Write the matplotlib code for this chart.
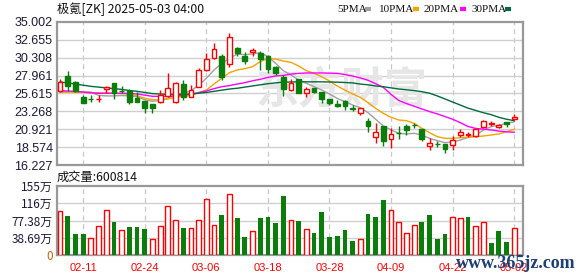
import numpy as np
import matplotlib
matplotlib.use('Agg')
import matplotlib.pyplot as plt

# --- data ---
title = '极氪[ZK] 2025-05-03 04:00'
dates = ['02-06', '02-07', '02-10', '02-11', '02-12', '02-13', '02-14', '02-18', '02-19', '02-20',
         '02-21', '02-24', '02-25', '02-26', '02-27', '02-28', '03-03', '03-04', '03-05', '03-06',
         '03-07', '03-10', '03-11', '03-12', '03-13', '03-14', '03-17', '03-18', '03-19', '03-20',
         '03-21', '03-24', '03-25', '03-26', '03-27', '03-28', '03-31', '04-01', '04-02', '04-03',
         '04-04', '04-07', '04-08', '04-09', '04-10', '04-11', '04-14', '04-15', '04-16', '04-17',
         '04-21', '04-22', '04-23', '04-24', '04-25', '04-28', '04-29', '04-30', '05-01', '05-02']
tick_dates = ['02-11', '02-24', '03-06', '03-18', '03-28', '04-09', '04-22', '05-02']

opens = [25.90, 27.90, 27.12, 25.16, 24.92, 24.85, 26.16, 26.99, 25.99, 25.90,
         25.03, 24.59, 24.24, 24.50, 25.29, 24.46, 26.81, 25.20, 26.51, 28.69,
         30.21, 30.56, 29.42, 31.52, 30.56, 31.00, 30.95, 30.52, 29.12, 27.81,
         26.07, 27.47, 25.64, 26.29, 25.85, 24.85, 24.20, 24.63, 23.66, 23.11,
         22.06, 19.97, 21.37, 19.62, 20.45, 21.36, 21.52, 20.93, 18.75, 19.03,
         19.01, 18.88, 20.19, 20.25, 20.10, 21.28, 21.69, 21.19, 21.84, 22.24]
highs = [27.47, 28.56, 27.25, 25.42, 25.37, 25.37, 26.55, 27.00, 26.60, 26.20,
         25.77, 24.60, 24.30, 26.07, 28.25, 27.16, 27.38, 26.72, 28.99, 30.87,
         32.17, 30.73, 33.48, 31.74, 31.00, 31.61, 31.21, 30.65, 29.25, 28.03,
         27.47, 27.47, 26.51, 26.38, 25.85, 24.85, 24.76, 24.76, 24.11, 23.72,
         22.37, 21.80, 21.37, 21.06, 21.37, 21.62, 21.80, 20.93, 19.75, 19.40,
         19.01, 20.06, 20.93, 20.62, 20.93, 22.15, 22.02, 21.62, 21.84, 22.93]
lows = [25.85, 25.98, 25.85, 24.33, 24.50, 24.50, 25.63, 24.90, 25.63, 24.24,
        24.55, 23.11, 23.10, 24.33, 25.20, 24.33, 24.76, 25.11, 26.42, 28.60,
        30.12, 27.38, 29.12, 30.52, 29.43, 30.52, 28.69, 28.25, 28.03, 25.29,
        25.98, 25.63, 25.11, 25.72, 24.33, 24.07, 23.81, 23.46, 23.37, 22.76,
        20.62, 19.10, 18.75, 18.45, 19.62, 20.19, 21.06, 19.45, 18.23, 18.57,
        17.88, 18.23, 19.88, 19.88, 19.88, 21.06, 21.37, 21.06, 21.19, 22.15]
closes = [27.11, 26.64, 25.98, 24.42, 24.88, 24.90, 26.42, 25.68, 25.97, 24.55,
          24.55, 23.72, 23.67, 25.40, 26.29, 26.94, 25.11, 26.03, 28.69, 30.08,
          31.39, 27.73, 32.96, 30.87, 29.91, 31.26, 30.12, 28.77, 28.34, 26.16,
          26.94, 25.72, 26.16, 25.85, 24.85, 24.42, 23.98, 23.98, 23.60, 23.72,
          21.37, 20.54, 19.45, 20.28, 20.40, 20.84, 21.50, 19.62, 19.10, 19.00,
          18.40, 19.53, 20.54, 20.28, 20.93, 22.02, 21.71, 21.45, 21.58, 22.50]

ma5 = [25.80, 25.85, 25.85, 25.80, 25.80, 25.37, 25.30, 25.30, 25.35, 25.30,
       25.20, 24.80, 24.60, 24.70, 25.00, 25.42, 25.64, 25.98, 26.68, 27.60,
       28.69, 29.56, 30.21, 30.78, 30.69, 30.78, 30.95, 30.43, 29.56, 28.60,
       28.03, 27.38, 26.94, 26.51, 26.07, 25.55, 24.98, 24.55, 24.11, 23.76,
       23.11, 22.24, 21.37, 20.84, 20.41, 20.32, 20.41, 20.19, 19.75, 19.45,
       19.19, 19.27, 19.53, 19.88, 20.19, 20.84, 21.28, 21.45, 21.71, 21.93]
ma10 = [25.80, 25.80, 25.78, 25.75, 25.72, 25.70, 25.68, 25.65, 25.60, 25.55,
        25.30, 25.00, 24.80, 24.77, 24.90, 25.11, 25.25, 25.37, 25.72, 26.07,
        26.86, 27.60, 28.34, 28.69, 28.86, 29.12, 29.78, 30.17, 30.12, 29.86,
        29.69, 29.21, 28.60, 28.25, 27.81, 27.25, 26.60, 26.07, 25.55, 25.11,
        24.42, 23.67, 23.02, 22.50, 22.15, 22.06, 21.71, 21.06, 20.49, 19.97,
        19.75, 19.75, 19.84, 19.88, 19.97, 20.06, 20.19, 20.32, 20.62, 20.93]
ma20 = [25.98, 25.94, 25.90, 25.80, 25.70, 25.64, 25.64, 25.64, 25.64, 25.62,
        25.55, 25.40, 25.25, 25.24, 25.24, 25.29, 25.38, 25.55, 25.72, 25.94,
        26.25, 26.50, 26.65, 26.85, 27.03, 27.28, 27.47, 27.72, 27.90, 27.98,
        28.15, 28.25, 28.30, 28.30, 28.30, 28.28, 28.25, 28.10, 27.90, 27.65,
        27.35, 26.90, 26.40, 25.50, 24.70, 24.30, 23.95, 23.60, 23.25, 22.95,
        22.60, 22.25, 21.80, 21.30, 21.05, 20.95, 20.85, 20.70, 20.60, 20.55]
ma30 = [27.12, 27.00, 26.85, 26.70, 26.55, 26.45, 26.35, 26.25, 26.15, 26.00,
        25.90, 25.75, 25.60, 25.55, 25.50, 25.50, 25.50, 25.55, 25.65, 25.75,
        25.90, 26.05, 26.20, 26.30, 26.45, 26.60, 26.75, 26.90, 27.00, 27.10,
        27.12, 27.14, 27.14, 27.14, 27.14, 27.12, 27.10, 27.05, 27.00, 26.85,
        26.75, 26.60, 26.50, 26.35, 26.20, 26.10, 26.00, 25.85, 25.65, 25.30,
        24.90, 24.50, 24.10, 23.70, 23.40, 23.10, 22.85, 22.50, 22.25, 22.06]

# volume in 万, and whether each volume bar is drawn red (1) or green (0)
volumes = [98, 88, 47, 47, 38, 64, 100, 75, 57, 62,
           62, 58, 36, 66, 111, 79, 60, 60, 79, 126,
           68, 90, 137, 84, 41, 54, 84, 86, 71, 133,
           79, 77, 59, 49, 97, 41, 43, 56, 32, 36,
           92, 86, 123, 100, 73, 49, 68, 75, 90, 37,
           47, 85, 84, 85, 64, 75, 28, 54, 30, 60.08]
vol_up = [1, 0, 0, 0, 1, 1, 1, 0, 1, 0, 0, 0, 1, 1, 1, 1, 0, 1, 1, 1,
          1, 0, 1, 0, 0, 1, 0, 0, 0, 0, 1, 0, 1, 0, 0, 0, 0, 0, 0, 1,
          0, 0, 0, 1, 1, 1, 1, 0, 0, 0, 0, 1, 1, 0, 1, 1, 0, 0, 0, 1]
last_volume = '600814'

price_ticks = [35.002, 32.655, 30.308, 27.961, 25.615, 23.268, 20.921, 18.574, 16.227]
vol_ticks = [0, 38.69, 77.38, 116.07, 154.76]
vol_tick_labels = ['0', '38.69万', '77.38万', '116万', '155万']

# --- style ---
RED = '#ff0000'
GREEN = '#0b7d0b'
ma_colors = ['#a0a0a0', '#f5a300', '#ff00ff', '#006b3c']
ma_names = ['5PMA', '10PMA', '20PMA', '30PMA']
num_font = 'Liberation Sans'
cjk = ['Noto Sans CJK SC', 'DejaVu Sans']

W, H = 578, 276
fig = plt.figure(figsize=(W / 100, H / 100), dpi=100)
fig.patch.set_facecolor('white')


def px_axes(x0, y0, x1, y1):
    return fig.add_axes([x0 / W, 1 - y1 / H, (x1 - x0) / W, (y1 - y0) / H])


ax = px_axes(57, 21.7, 522.7, 165.3)
axv = px_axes(57, 186, 522.7, 255)

x = np.arange(len(closes))
tick_pos = [dates.index(d) for d in tick_dates]
xlim = (-0.4, 60.1)

for a in (ax, axv):
    a.set_xlim(*xlim)
    a.set_facecolor('white')
    for s in a.spines.values():
        s.set_color('#999999')
        s.set_linewidth(1.6)
    a.tick_params(length=0)
    a.set_xticks([])
    for p in tick_pos:
        a.axvline(p, color='#c8c8c8', lw=0.9, ls=(0, (4, 3)), zorder=0)

# price panel
ax.set_ylim(price_ticks[-1], price_ticks[0])
ax.set_yticks(price_ticks)
ax.set_yticklabels(['%.3f' % v for v in price_ticks], fontsize=9, family=num_font,
                   color='#1a1a3a')
ax.tick_params(axis='y', pad=3)
for v in price_ticks[1:-1]:
    ax.axhline(v, color='#cfcfcf', lw=1.0, zorder=0)

# faint watermark behind the candles
ax.text(0.61, 0.52, '东方财富', transform=ax.transAxes, ha='center', va='center',
        fontsize=31, color='#e6e6e6', family=cjk, fontweight='bold', zorder=0.5)

for vals, c in zip([ma5, ma10, ma20, ma30], ma_colors):
    ax.plot(x, vals, color=c, lw=1.0, zorder=2)

bw = 0.62
for i in x:
    o, h, l, c = opens[i], highs[i], lows[i], closes[i]
    up = c >= o
    col = RED if up else GREEN
    lo, hi = min(o, c), max(o, c)
    ax.vlines(i, l, lo, color=col, lw=1.0, zorder=3)
    ax.vlines(i, hi, h, color=col, lw=1.0, zorder=3)
    ax.bar(i, max(hi - lo, 0.03), bottom=lo, width=bw,
           facecolor='white' if up else GREEN, edgecolor=col, lw=1.0, zorder=4)

# volume panel
axv.set_ylim(0, vol_ticks[-1])
axv.set_yticks(vol_ticks)
axv.set_yticklabels(vol_tick_labels, fontsize=8.5, family=cjk, color='#1a1a3a')
axv.get_yticklabels()[0].set_color('#c86400')
axv.tick_params(axis='y', pad=3)
for v in vol_ticks[1:-1]:
    axv.axhline(v, color='#cfcfcf', lw=1.0, zorder=0)
for i in x:
    if vol_up[i]:
        axv.bar(i, volumes[i], width=bw, facecolor='white', edgecolor=RED, lw=1.0, zorder=3)
    else:
        axv.bar(i, volumes[i], width=bw, color=GREEN, lw=0, zorder=3)

for p, d in zip(tick_pos, tick_dates):
    fig.text((57 + (p - xlim[0]) / (xlim[1] - xlim[0]) * (522.7 - 57)) / W, 1 - 268 / H, d,
             ha='center', va='center', fontsize=8, family=num_font, color=RED)

# headers
fig.text(57 / W, 1 - 9 / H, title, ha='left', va='center', fontsize=8.8, family=cjk,
         color='#111111')
fig.text(57 / W, 1 - 177 / H, '成交量:' + last_volume, ha='left', va='center', fontsize=8.8,
         family=cjk, color='#111111')

leg_x = [337, 379, 424, 471]
mark_x = [365, 413, 460, 505]
for name, c, lx, mx in zip(ma_names, ma_colors, leg_x, mark_x):
    fig.text(lx / W, 1 - 9 / H, name, ha='left', va='center', fontsize=8,
             family='Liberation Serif', color='#111111')
    fig.add_artist(plt.Line2D([mx / W, (mx + 6) / W], [1 - 9 / H, 1 - 9 / H],
                              color=c, lw=3, solid_capstyle='butt'))

# site watermark that sits over the bottom-right corner
fig.text(1 - 2 / W, 1 - 264 / H, 'www.365jz.com', ha='right', va='center', fontsize=13,
         family='Liberation Serif', fontweight='bold', color='#1c3f7a')

fig.savefig('out.png', dpi=100, facecolor='white')
